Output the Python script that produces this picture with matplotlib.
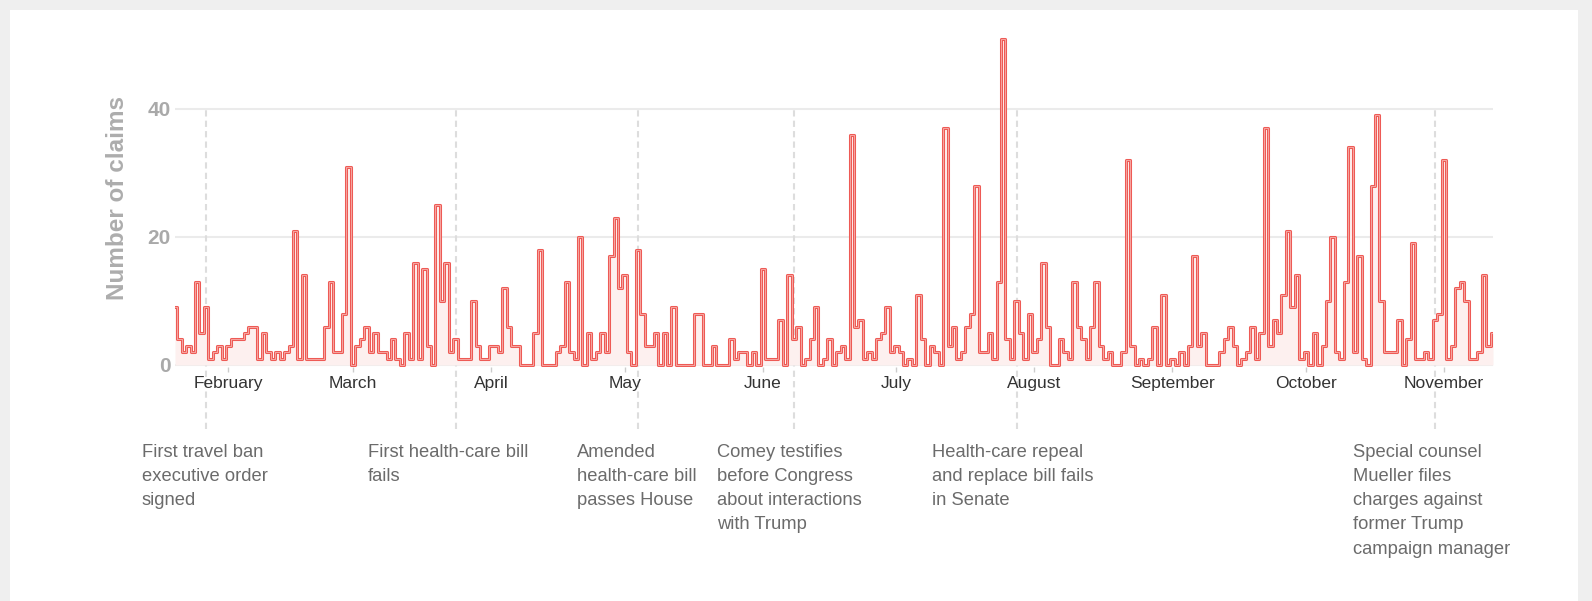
import matplotlib.pyplot as plt
import matplotlib.dates as mdates
from matplotlib.patches import Rectangle
import pandas as pd

plt.rcParams['font.family'] = ['Liberation Sans', 'DejaVu Sans']

# daily number of false or misleading claims, starting Jan 20 2017
jan_claims = [9, 4, 2, 3, 2, 13, 5, 9, 1, 2, 3, 1]
feb_claims = [3, 4, 4, 4, 5, 6, 6, 1, 5, 2, 1, 2, 1, 2, 3, 21, 1, 14, 1, 1,
              1, 1, 6, 13, 2, 2, 8, 31]
mar_claims = [0, 3, 4, 6, 2, 5, 2, 2, 1, 4, 1, 0, 5, 1, 16, 1, 15, 3, 0, 25,
              10, 16, 2, 4, 1, 1, 1, 10, 3, 1, 1]
apr_claims = [3, 3, 2, 12, 6, 3, 3, 0, 0, 0, 5, 18, 0, 0, 0, 2, 3, 13, 2, 1,
              20, 0, 5, 1, 2, 5, 2, 17, 23, 12]
may_claims = [14, 2, 0, 18, 8, 3, 3, 5, 0, 5, 0, 9, 0, 0, 0, 0, 8, 8, 0, 0,
              3, 0, 0, 0, 4, 1, 2, 2, 0, 2, 0]
jun_claims = [15, 1, 1, 1, 7, 0, 14, 4, 6, 0, 1, 4, 9, 0, 1, 4, 0, 2, 3, 1,
              36, 6, 7, 1, 2, 1, 4, 5, 9, 2]
jul_claims = [3, 2, 0, 1, 0, 11, 4, 0, 3, 2, 0, 37, 3, 6, 1, 2, 6, 8, 28, 2,
              2, 5, 1, 13, 51, 4, 1, 10, 5, 1, 8]
aug_claims = [2, 4, 16, 6, 0, 0, 4, 2, 1, 13, 6, 4, 1, 6, 13, 3, 1, 2, 0, 0,
              2, 32, 3, 0, 1, 0, 1, 6, 0, 11, 0]
sep_claims = [1, 0, 2, 0, 3, 17, 3, 5, 0, 0, 0, 2, 4, 6, 3, 0, 1, 2, 6, 1,
              5, 37, 3, 7, 5, 11, 21, 9, 14, 1]
oct_claims = [2, 0, 5, 0, 3, 10, 20, 2, 1, 13, 34, 2, 17, 1, 0, 28, 39, 10, 2, 2,
              2, 7, 0, 4, 19, 1, 1, 2, 1, 7, 8]
nov_claims = [32, 1, 3, 12, 13, 10, 1, 1, 2, 14, 3, 5]

claims = (jan_claims + feb_claims + mar_claims + apr_claims + may_claims +
          jun_claims + jul_claims + aug_claims + sep_claims + oct_claims +
          nov_claims)
days = pd.date_range('2017-01-20', periods=len(claims), freq='D')

event_dates = pd.to_datetime(['2017-01-27', '2017-03-24', '2017-05-04',
                              '2017-06-08', '2017-07-28', '2017-10-30'])
event_labels = ['First travel ban\nexecutive order\nsigned',
                'First health-care bill\nfails',
                'Amended\nhealth-care bill\npasses House',
                'Comey testifies\nbefore Congress\nabout interactions\nwith Trump',
                'Health-care repeal\nand replace bill fails\nin Senate',
                'Special counsel\nMueller files\ncharges against\nformer Trump\ncampaign manager']
# left edge of each note, in pixels
label_px = [142, 368, 577, 717, 932, 1353]

W, H = 1592, 601
fig = plt.figure(figsize=(W / 100, H / 100), dpi=100, facecolor='#efefef')
fig.add_artist(Rectangle((10 / W, 0), 1568 / W, 591 / H, transform=fig.transFigure,
                         facecolor='white', edgecolor='none', zorder=-5))

y_lo, y_hi = -0.35, 52
ax_bottom = 367.2
ax_h = (y_hi - y_lo) * 6.4
ax = fig.add_axes([175 / W, (H - ax_bottom) / H, 1318 / W, ax_h / H])
ax.set_facecolor('none')

for g in [0, 20, 40]:
    ax.axhline(g, color='#ebebeb', lw=1.5, zorder=0)

for d in event_dates:
    ax.axvline(d, ymin=-0.1845, ymax=(40 - y_lo) / (y_hi - y_lo), color='#dddddd',
               lw=1.5, ls=(0, (3, 2)), clip_on=False, zorder=1)

ax.fill_between(days, claims, step='mid', color='#fdf0ef', lw=0, zorder=2)
ax.plot(days, claims, drawstyle='steps-mid', color='#ee5a55', lw=2.2, zorder=3)
ax.plot(days, claims, drawstyle='steps-mid', color='#f7b3ae', lw=0.6, zorder=4)

ax.set_xlim(days[0], days[-1])
ax.set_ylim(y_lo, y_hi)
for s in ax.spines.values():
    s.set_visible(False)

ax.set_yticks([0, 20, 40])
ax.tick_params(axis='y', length=0, pad=3, labelsize=15, labelcolor='#a9a9a9')
for t in ax.get_yticklabels():
    t.set_fontweight('bold')

ax.xaxis.set_major_locator(mdates.MonthLocator())
ax.xaxis.set_major_formatter(mdates.DateFormatter('%B'))
ax.tick_params(axis='x', length=3.6, width=1, color='#cccccc', pad=3,
               labelsize=12.5, labelcolor='#333333')

fig.text(118 / W, 1 - 198 / H, 'Number of claims', rotation=90, ha='center',
         va='center', fontsize=17.5, fontweight='bold', color='#adadad')

for px, lab in zip(label_px, event_labels):
    fig.text(px / W, 1 - 444 / H, lab, ha='left', va='top', fontsize=13.2,
             color='#6b6b6b', linespacing=1.55)

fig.savefig('out.png', dpi=100, facecolor=fig.get_facecolor())
